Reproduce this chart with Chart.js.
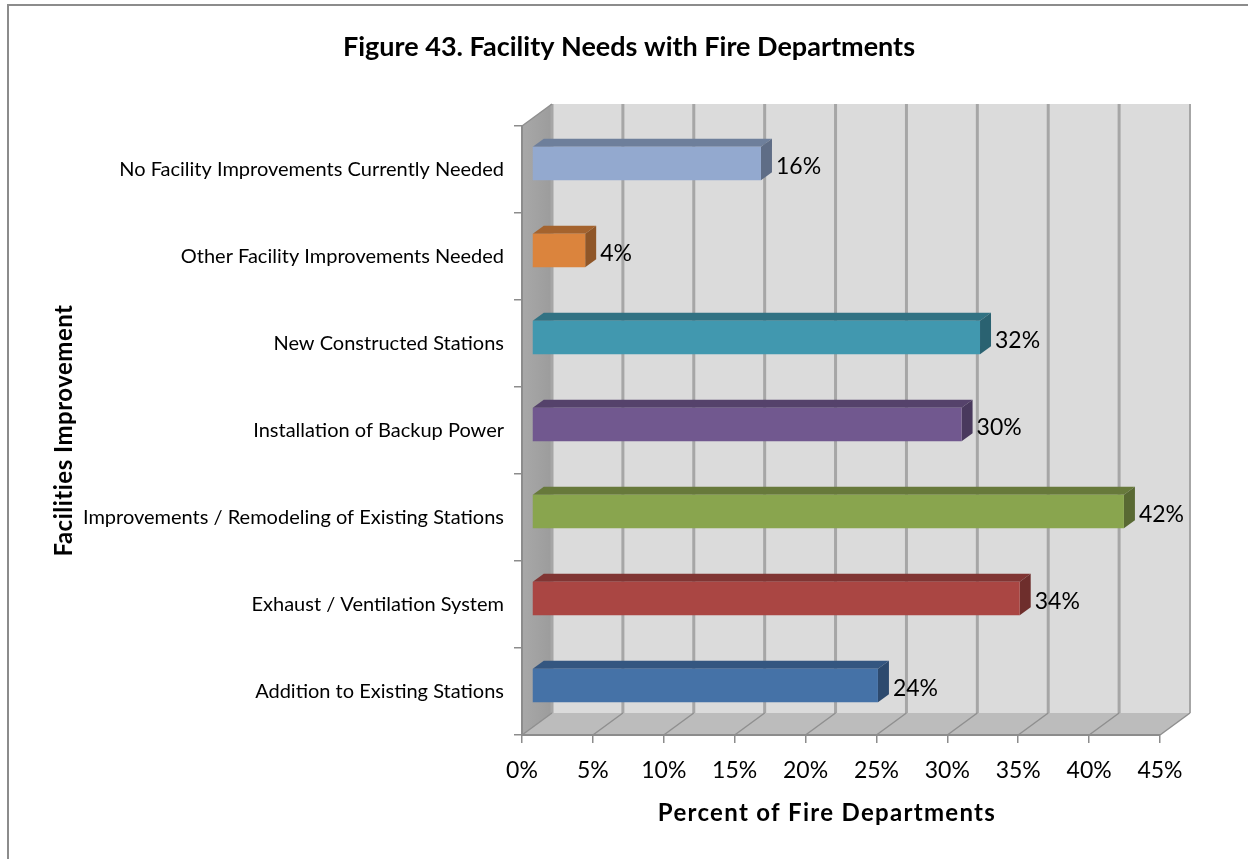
<!DOCTYPE html>
<html><head><meta charset="utf-8">
<style>html,body{margin:0;padding:0;background:#fff}#w{width:1248px;height:859px;position:relative}canvas{display:block}</style>
<script src="https://cdn.jsdelivr.net/npm/chart.js@4/dist/chart.umd.min.js"></script>
</head><body><div id="w"><canvas id="c" width="1248" height="859"></canvas></div>
<script>
const categories = ["No Facility Improvements Currently Needed","Other Facility Improvements Needed","New Constructed Stations","Installation of Backup Power","Improvements / Remodeling of Existing Stations","Exhaust / Ventilation System","Addition to Existing Stations"];
const percentValues = [16.15,3.75,31.6,30.3,41.75,34.4,24.4];
const barColors = ["#93A9CF","#DB843D","#4198AF","#71588F","#89A54E","#AA4643","#4572A7"];
const topColors = ["#6E7F9B","#A4632E","#317283","#55426B","#67793B","#803533","#345680"];
const sideColors = ["#5F6D86","#8F5628","#2A6271","#49395D","#596933","#6E2E2C","#2D4A6E"];
const chartTitle = "Figure 43. Facility Needs with Fire Departments";
const xTitle = "Percent of Fire Departments";
const yTitle = "Facilities Improvement";
const FONT = "Lato";
const wallDepth = {x:30, y:-22};
const barDepth = {x:11, y:-8};
const barOffset = {x:10, y:-6};

const nudge = (o, m, dx, sp) => { const f = o[m]; o[m] = function(...a){ const c=this.ctx; c.save(); c.translate(dx,0); c.letterSpacing=sp+'px'; f.apply(this,a); c.restore(); }; };
const poly = (c, pts, fill) => { c.beginPath(); pts.forEach((p,i)=> i?c.lineTo(p[0],p[1]):c.moveTo(p[0],p[1])); c.closePath(); c.fillStyle=fill; c.fill(); };

const depth3d = {
  id:'depth3d',
  beforeDraw(chart){
    if(!chart.$nudged){
      chart.$nudged=true;
      nudge(chart.titleBlock,'draw',44,0);
      nudge(chart.scales.x,'drawTitle',-14,1.3);
      nudge(chart.scales.y,'drawTitle',0,0.5);
    }
    const c=chart.ctx, a=chart.chartArea, d=wallDepth, X=chart.scales.x;
    c.save();
    // outer frame
    c.strokeStyle='#8c8c8c'; c.lineWidth=2;
    c.beginPath(); c.moveTo(8,859); c.lineTo(8,5); c.lineTo(1248,5); c.stroke();
    // walls
    poly(c,[[a.left+d.x,a.top+d.y],[a.right+d.x,a.top+d.y],[a.right+d.x,a.bottom+d.y],[a.left+d.x,a.bottom+d.y]],'#DBDBDB');
    const g=c.createLinearGradient(a.left,0,a.left+d.x,0); g.addColorStop(0,'#A8A8A8'); g.addColorStop(1,'#9C9C9C');
    poly(c,[[a.left,a.top],[a.left+d.x,a.top+d.y],[a.left+d.x,a.bottom+d.y],[a.left,a.bottom]],g);
    poly(c,[[a.left,a.bottom],[a.left+d.x,a.bottom+d.y],[a.right+d.x,a.bottom+d.y],[a.right,a.bottom]],'#BCBCBC');
    // grid on back wall and floor
    X.ticks.forEach((t,i)=>{
      const x=X.getPixelForTick(i);
      c.strokeStyle='#A6A6A6'; c.lineWidth=i===X.ticks.length-1?2:3;
      c.beginPath(); c.moveTo(x+d.x,a.top+d.y); c.lineTo(x+d.x,a.bottom+d.y); c.stroke();
      c.strokeStyle='#8F8F8F'; c.lineWidth=1.5;
      c.beginPath(); c.moveTo(x,a.bottom); c.lineTo(x+d.x,a.bottom+d.y); c.stroke();
    });
    c.beginPath(); c.moveTo(a.left,a.top); c.lineTo(a.left+d.x,a.top+d.y); c.strokeStyle='#8F8F8F'; c.lineWidth=1.5; c.stroke();
    c.restore();
  },
  beforeDatasetsDraw(chart){
    const c=chart.ctx;
    c.save();
    c.translate(barOffset.x,barOffset.y);
    const d=barDepth;
    chart.getDatasetMeta(0).data.forEach((b,i)=>{
      const t=b.y-b.height/2, bt=b.y+b.height/2;
      poly(c,[[b.base,t],[b.base+d.x,t+d.y],[b.x+d.x,t+d.y],[b.x,t]],topColors[i]);
      poly(c,[[b.x,t],[b.x+d.x,t+d.y],[b.x+d.x,bt+d.y],[b.x,bt]],sideColors[i]);
    });
  },
  afterDatasetsDraw(chart){
    const c=chart.ctx;
    c.restore();
    c.save();
    c.font='23px '+FONT; c.fillStyle='#000'; c.textAlign='left'; c.textBaseline='middle';
    chart.getDatasetMeta(0).data.forEach((b,i)=>{
      c.fillText(Math.round(percentValues[i])+'%', b.x+barOffset.x+barDepth.x+4, b.y+barOffset.y+3);
    });
    c.restore();
  }
};

new Chart(document.getElementById('c'),{
  type:'bar',
  plugins:[depth3d],
  data:{labels:categories,datasets:[{data:percentValues,backgroundColor:barColors,borderWidth:0,clip:false,categoryPercentage:1,barPercentage:0.385}]},
  options:{
    indexAxis:'y',responsive:false,animation:false,
    layout:{padding:{left:10,right:88,top:0,bottom:0}},
    plugins:{
      legend:{display:false},tooltip:{enabled:false},
      title:{display:true,text:chartTitle,color:'#000',font:{family:FONT,size:27,weight:'bold',lineHeight:1.2},padding:{top:31,bottom:62.6}}
    },
    scales:{
      x:{type:'linear',min:0,max:45,
        afterFit(s){s.height=124;},
        grid:{drawOnChartArea:false,drawTicks:true,tickLength:8,color:'#8c8c8c',lineWidth:1.5},
        border:{display:true,color:'#8c8c8c',width:2},
        ticks:{stepSize:5,color:'#000',padding:14,autoSkip:false,maxRotation:0,minRotation:0,font:{family:FONT,size:23},callback:v=>v+'%'},
        title:{display:true,text:xTitle,color:'#000',font:{family:FONT,size:24,weight:'bold',lineHeight:1.2},padding:{top:0,bottom:31}}
      },
      y:{type:'category',
        afterFit(s){s.width=512;},
        grid:{drawOnChartArea:false,drawTicks:true,tickLength:8,color:'#8c8c8c',lineWidth:1.5,offset:true},
        border:{display:true,color:'#8c8c8c',width:2},
        ticks:{color:'#000',padding:10,autoSkip:false,font:{family:FONT,size:20}},
        title:{display:true,text:yTitle,color:'#000',font:{family:FONT,size:24,weight:'bold',lineHeight:1.2},padding:{top:40,bottom:0}}
      }
    }
  }
});
</script></body></html>
